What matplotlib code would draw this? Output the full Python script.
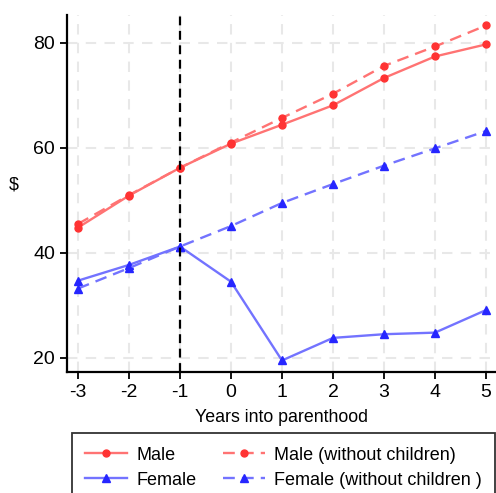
import matplotlib
matplotlib.use('Agg')
import matplotlib.pyplot as plt

plt.rcParams['font.family'] = ['Liberation Sans', 'DejaVu Sans']
plt.rcParams['axes.unicode_minus'] = False

# Data
years = [-3, -2, -1, 0, 1, 2, 3, 4, 5]
male = [44.8, 50.9, 56.2, 60.8, 64.4, 68.1, 73.3, 77.4, 79.7]
male_nochild = [45.5, 51.0, 56.2, 61.0, 65.7, 70.3, 75.6, 79.3, 83.3]
female = [34.7, 37.7, 41.2, 34.5, 19.5, 23.8, 24.5, 24.8, 29.1]
female_nochild = [33.2, 37.1, 41.2, 45.1, 49.5, 53.1, 56.6, 59.9, 63.2]

fig = plt.figure(figsize=(4.96, 4.93), dpi=100)
ax = fig.add_axes([0.135, 0.2454, 0.865, 0.7242])

red_line = (1, 0.45, 0.45)
blue_line = (0.45, 0.45, 1)
red_mk = (1, 0.2, 0.2)
blue_mk = (0.15, 0.15, 1)

ax.plot(years, male, '-', color=red_line, lw=1.7, marker='o', ms=5,
        mfc=red_mk, mec=red_mk, label='Male')
ax.plot(years, male_nochild, '--', color=red_line, lw=1.7, marker='o', ms=5,
        mfc=red_mk, mec=red_mk, dashes=(5, 3), label='Male (without children)')
ax.plot(years, female, '-', color=blue_line, lw=1.7, marker='^', ms=6,
        mfc=blue_mk, mec=blue_mk, label='Female')
ax.plot(years, female_nochild, '--', color=blue_line, lw=1.7, marker='^', ms=6,
        mfc=blue_mk, mec=blue_mk, dashes=(5, 3), label='Female (without children )')

ax.axvline(-1, color='black', lw=1.6, ls='--', dashes=(4, 2.5))

ax.set_xlim(-3.216, 5.196)
ax.set_ylim(17.3, 85.3)
ax.set_xticks(years)
ax.set_yticks([20, 40, 60, 80])
ax.grid(True, color='#e8e8e8', ls='--', lw=1.5, dashes=(5, 4))
ax.set_axisbelow(True)

for s in ['top', 'right']:
    ax.spines[s].set_visible(False)
for s in ['left', 'bottom']:
    ax.spines[s].set_linewidth(1.6)
ax.tick_params(direction='out', length=5, width=1.3, labelsize=14)

ax.set_xlabel('Years into parenthood', fontsize=12.8, labelpad=6)
ax.set_ylabel('$', fontsize=12.8, rotation=0, labelpad=14)

handles, labels = ax.get_legend_handles_labels()
order = [0, 2, 1, 3]
leg = fig.legend([handles[i] for i in order], [labels[i] for i in order],
                 loc='upper left', bbox_to_anchor=(0.145, 0.1217), ncol=2,
                 fontsize=13.0, frameon=True, fancybox=False, edgecolor='black',
                 handlelength=2.3, handletextpad=0.5, columnspacing=1.5,
                 borderpad=0.75, labelspacing=0.45, borderaxespad=0)
leg.get_frame().set_linewidth(1.3)

fig.savefig('out.png', dpi=100)
